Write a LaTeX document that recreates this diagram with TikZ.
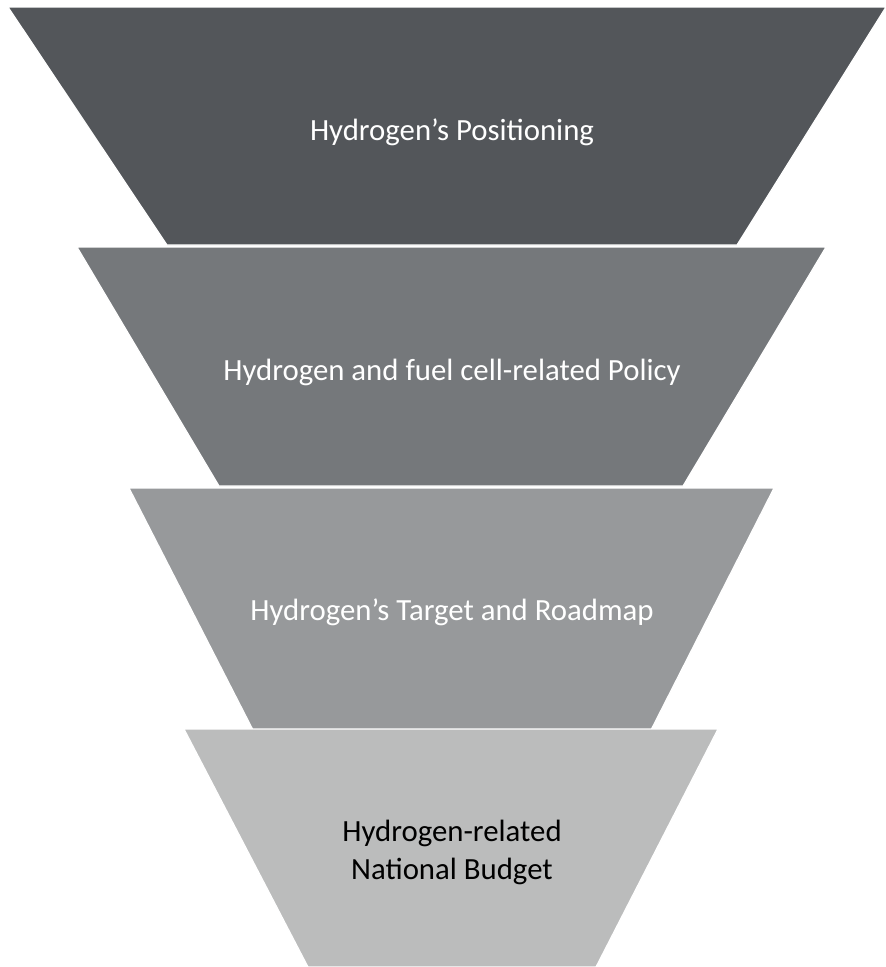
\documentclass[tikz,border=0pt]{standalone}
\usepackage{fontspec}
\setmainfont{Carlito}
\usepackage{tikz}
\definecolor{funnelA}{RGB}{83,86,90}
\definecolor{funnelB}{RGB}{117,120,123}
\definecolor{funnelC}{RGB}{151,153,155}
\definecolor{funnelD}{RGB}{187,188,188}

\begin{document}
\begin{tikzpicture}[x=1pt, y=-1pt, line width=1.2pt,
    layer/.style={draw=white, line join=miter},
    lbl/.style={font=\fontsize{30.8}{38}\selectfont, align=center}]
    \useasboundingbox (0,0) rectangle (886,967);
    \filldraw[layer,fill=funnelA] (8,7)--(886,7)--(737,245)--(167,245)--cycle;
    \node[lbl,white] (positioning) at (452,132){Hydrogen’s Positioning};
    \filldraw[layer,fill=funnelB] (77,247)--(826,247)--(683,486)--(219,486)--cycle;
    \node[lbl,white] (policy) at (452,372){Hydrogen and fuel cell-related Policy};
    \filldraw[layer,fill=funnelC] (129,488)--(774,488)--(651,730)--(253,730)--cycle;
    \node[lbl,white] (roadmap) at (452,612){Hydrogen’s Target and Roadmap};
    \filldraw[layer,fill=funnelD] (184,729)--(718,729)--(596,967)--(308,967)--cycle;
    \node[lbl,black] (budget) at (452,852){Hydrogen-related\\National Budget};
\end{tikzpicture}
\end{document}
